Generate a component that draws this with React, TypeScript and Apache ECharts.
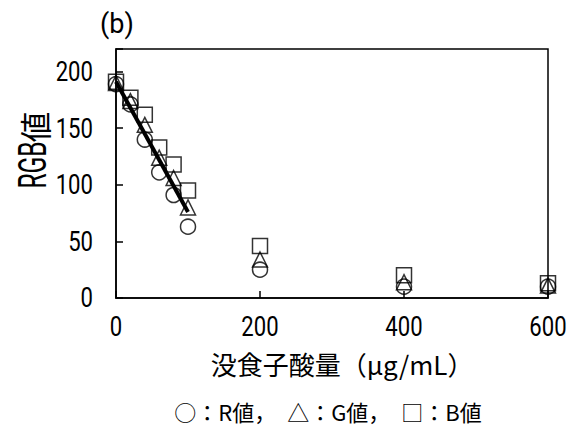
import React, { useEffect, useRef } from "react";
import * as echarts from "echarts";

const xValues = [0, 20, 40, 60, 80, 100, 200, 400, 600];
const rValues = [189, 171, 140, 111, 91, 63, 25, 10, 10];
const gValues = [190, 174, 153, 124, 106, 80, 34, 14, 11];
const bValues = [191, 177, 162, 133, 118, 95, 46, 20, 13];
const fitLine = [
  [0, 191],
  [100, 76],
];
const xTicks = [0, 200, 400, 600];
const yTicks = [0, 50, 100, 150, 200];

const LATIN = "Roboto, 'Noto Sans', sans-serif";
const JP_FONT = "'Noto Sans CJK JP', sans-serif";
const DIGIT_SIZE = 27;
const DIGIT_SCALE = 0.82;

export default function App() {
  const ref = useRef<HTMLDivElement>(null);
  useEffect(() => {
    if (!ref.current) return;
    const chart = echarts.init(ref.current, undefined, { renderer: "svg" });
    const pts = (ys: number[]) => xValues.map((x, i) => [x, ys[i]]);
    const markerStyle = {
      color: "rgba(255,255,255,0)",
      borderColor: "#000",
      borderWidth: 1.5,
    };
    chart.setOption({
      animation: false,
      backgroundColor: "#fff",
      grid: {
        left: 116,
        top: 49,
        right: 25,
        bottom: 128,
        show: true,
        borderColor: "#000",
        borderWidth: 1.5,
        backgroundColor: "transparent",
      },
      xAxis: {
        type: "value",
        min: 0,
        max: 600,
        interval: 200,
        axisLine: { show: true, lineStyle: { color: "#000", width: 1.5 } },
        axisTick: { show: true, inside: true, length: 7, lineStyle: { color: "#000", width: 1.5 } },
        splitLine: { show: false },
        axisLabel: { show: false },
        name: "没食子酸量（μg/mL）",
        nameLocation: "middle",
        nameGap: 52,
        nameTextStyle: { color: "#000", fontSize: 26, fontFamily: JP_FONT, padding: [0, 0, 0, 20] },
      },
      yAxis: {
        type: "value",
        min: 0,
        max: 220,
        interval: 50,
        axisLine: { show: true, lineStyle: { color: "#000", width: 1.5 } },
        axisTick: { show: true, inside: true, length: 7, lineStyle: { color: "#000", width: 1.5 } },
        splitLine: { show: false },
        axisLabel: { show: false },
      },
      series: [
        {
          name: "B値",
          type: "scatter",
          symbol: "rect",
          symbolSize: 15,
          itemStyle: markerStyle,
          data: pts(bValues),
          z: 2,
        },
        {
          name: "G値",
          type: "scatter",
          symbol: "triangle",
          symbolSize: 15,
          itemStyle: markerStyle,
          data: pts(gValues),
          z: 3,
        },
        {
          name: "R値",
          type: "scatter",
          symbol: "circle",
          symbolSize: 15,
          itemStyle: markerStyle,
          data: pts(rValues),
          z: 4,
        },
        {
          name: "fit",
          type: "line",
          data: fitLine,
          symbol: "none",
          lineStyle: { color: "#000", width: 4 },
          z: 5,
        },
      ],
    });

    const labelEls: any[] = [];
    xTicks.forEach((v) => {
      const p = chart.convertToPixel({ gridIndex: 0 }, [v, 0]) as number[];
      labelEls.push({
        type: "text",
        x: p[0],
        y: p[1] + 29,
        scaleX: DIGIT_SCALE,
        style: {
          text: String(v),
          fontSize: DIGIT_SIZE,
          fontFamily: LATIN,
          fill: "#000",
          align: "center",
          verticalAlign: "middle",
        },
      });
    });
    yTicks.forEach((v) => {
      const p = chart.convertToPixel({ gridIndex: 0 }, [0, v]) as number[];
      labelEls.push({
        type: "text",
        x: p[0] - 23,
        y: p[1],
        scaleX: DIGIT_SCALE,
        style: {
          text: String(v),
          fontSize: DIGIT_SIZE,
          fontFamily: LATIN,
          fill: "#000",
          align: "right",
          verticalAlign: "middle",
        },
      });
    });

    chart.setOption({
      graphic: [
        ...labelEls,
        {
          type: "text",
          x: 33,
          y: 165,
          rotation: Math.PI / 2,
          scaleX: 0.63,
          style: {
            text: "RGB",
            fontSize: 39,
            fontFamily: LATIN,
            fill: "#000",
            align: "center",
            verticalAlign: "middle",
          },
        },
        {
          type: "text",
          x: 34,
          y: 127,
          rotation: Math.PI / 2,
          scaleX: 0.95,
          style: {
            text: "値",
            fontSize: 32,
            fontFamily: JP_FONT,
            fill: "#000",
            align: "center",
            verticalAlign: "middle",
          },
        },
        {
          type: "text",
          x: 117,
          y: 24,
          style: {
            text: "(b)",
            fontSize: 27,
            fontFamily: LATIN,
            fill: "#000",
            align: "center",
            verticalAlign: "middle",
          },
        },
        {
          type: "text",
          x: 328,
          y: 411,
          style: {
            text: "○：R値，　△：G値，　□：B値",
            fontSize: 22,
            fontFamily: JP_FONT,
            fill: "#000",
            align: "center",
            verticalAlign: "middle",
          },
        },
      ],
    });
    return () => chart.dispose();
  }, []);
  return <div ref={ref} style={{ width: 573, height: 426, position: "absolute", left: 0, top: 0 }} />;
}
